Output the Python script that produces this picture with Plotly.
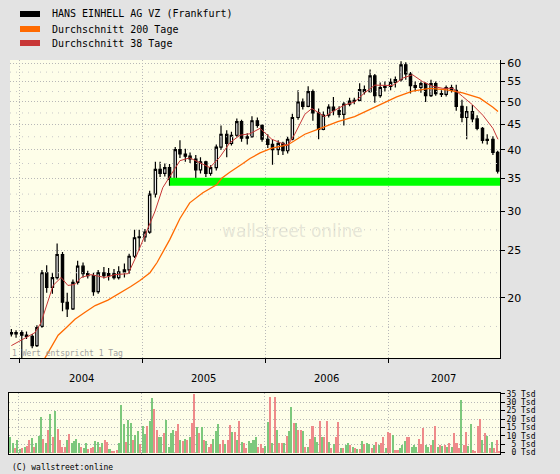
import plotly.graph_objects as go
import pandas as pd
import math

# ---------------- data ----------------
candle_dates = [
    "2003-12-08", "2003-12-22",
    "2004-01-08", "2004-01-22", "2004-02-08", "2004-02-22", "2004-03-08", "2004-03-22",
    "2004-04-08", "2004-04-22", "2004-05-08", "2004-05-22", "2004-06-08", "2004-06-22",
    "2004-07-08", "2004-07-22", "2004-08-08", "2004-08-22", "2004-09-08", "2004-09-22",
    "2004-10-08", "2004-10-22", "2004-11-08", "2004-11-22", "2004-12-08", "2004-12-22",
    "2005-01-08", "2005-01-22", "2005-02-08", "2005-02-22", "2005-03-08", "2005-03-22",
    "2005-04-08", "2005-04-22", "2005-05-08", "2005-05-22", "2005-06-08", "2005-06-22",
    "2005-07-08", "2005-07-22", "2005-08-08", "2005-08-22", "2005-09-08", "2005-09-22",
    "2005-10-08", "2005-10-22", "2005-11-08", "2005-11-22", "2005-12-08", "2005-12-22",
    "2006-01-08", "2006-01-22", "2006-02-08", "2006-02-22", "2006-03-08", "2006-03-22",
    "2006-04-08", "2006-04-22", "2006-05-08", "2006-05-22", "2006-06-08", "2006-06-22",
    "2006-07-08", "2006-07-22", "2006-08-08", "2006-08-22", "2006-09-08", "2006-09-22",
    "2006-10-08", "2006-10-22", "2006-11-08", "2006-11-22", "2006-12-08", "2006-12-22",
    "2007-01-08", "2007-01-22", "2007-02-08", "2007-02-22", "2007-03-08", "2007-03-22",
    "2007-04-08", "2007-04-22", "2007-05-08", "2007-05-22", "2007-06-08", "2007-06-22",
    "2007-07-08", "2007-07-22", "2007-08-08", "2007-08-22", "2007-09-08", "2007-09-22",
    "2007-10-08", "2007-10-22", "2007-11-08", "2007-11-22",
]
opens = [17.0, 16.9, 17.0, 16.8, 16.7, 16.0, 17.5, 22.5, 21.0, 22.0, 24.5, 19.6, 19.0, 21.5,
         23.2, 22.4, 22.2, 20.6, 22.5, 22.2, 22.4, 22.0, 22.6, 22.8, 24.3, 26.5,
         26.6, 27.2, 32.5, 36.5, 35.8, 36.8, 34.8, 40.0, 39.2, 38.8, 38.3, 36.4,
         37.8, 35.8, 36.8, 40.5, 43.0, 41.2, 42.8, 45.6, 42.2, 42.5, 45.8, 44.8,
         42.0, 41.0, 40.0, 41.2, 39.8, 42.0, 46.5, 50.0, 49.0, 52.5, 47.5, 44.0,
         47.0, 48.8, 48.0, 47.2, 49.5, 50.2, 50.4, 53.0, 52.5, 56.5, 51.5, 53.5,
         53.8, 54.8, 55.5, 59.5, 57.0, 54.0, 53.5, 54.5, 51.5, 54.5, 52.0, 51.8,
         53.5, 52.8, 49.0, 46.5, 47.8, 46.2, 44.2, 41.8, 42.0, 39.5]
highs = [17.3, 17.2, 17.2, 17.1, 16.9, 17.6, 22.8, 23.3, 22.5, 25.8, 24.8, 20.5, 21.8, 23.8,
         23.6, 22.7, 22.5, 22.8, 23.1, 23.0, 22.9, 23.2, 23.5, 24.6, 27.5, 27.5,
         27.6, 33.0, 37.8, 37.8, 37.5, 37.4, 40.5, 41.8, 40.2, 39.5, 39.0, 38.6,
         38.0, 37.2, 41.0, 44.8, 43.8, 43.5, 46.3, 46.0, 43.2, 46.8, 46.5, 45.0,
         43.0, 42.0, 41.8, 41.5, 42.5, 47.3, 52.8, 50.8, 53.8, 53.0, 48.5, 47.8,
         49.5, 51.2, 49.0, 50.0, 51.0, 51.0, 54.6, 54.0, 58.2, 57.0, 54.8, 55.0,
         55.8, 56.3, 60.5, 60.2, 57.5, 55.0, 55.0, 54.8, 55.5, 55.0, 52.8, 54.0,
         54.2, 54.2, 50.5, 49.0, 49.3, 47.0, 44.5, 43.0, 42.6, 39.8]
lows = [16.7, 16.6, 14.0, 16.5, 15.8, 15.9, 17.4, 20.5, 20.4, 21.8, 18.8, 18.3, 18.9, 21.3,
        22.0, 21.9, 20.2, 20.4, 21.9, 21.7, 21.8, 21.8, 22.0, 22.4, 24.1, 25.0,
        26.0, 27.0, 32.0, 35.2, 35.3, 33.8, 34.5, 38.5, 37.8, 37.6, 34.0, 35.8,
        35.2, 35.4, 36.3, 40.0, 38.6, 40.8, 42.5, 41.5, 41.0, 42.3, 44.3, 41.5,
        40.3, 37.3, 39.0, 39.0, 39.3, 41.8, 46.0, 48.3, 48.8, 45.8, 42.0, 43.8,
        46.5, 47.0, 46.5, 44.8, 49.0, 49.5, 50.2, 51.8, 52.3, 49.8, 51.0, 52.5,
        52.8, 53.5, 55.0, 55.5, 52.0, 52.5, 52.2, 50.0, 51.2, 51.5, 51.2, 51.3,
        52.3, 48.0, 45.5, 42.0, 45.5, 43.8, 41.2, 41.0, 39.0, 35.8]
closes = [16.9, 17.0, 16.8, 16.7, 16.0, 17.4, 22.5, 21.0, 22.0, 24.5, 19.6, 19.0, 21.5, 23.2,
          22.4, 22.2, 20.6, 22.5, 22.2, 22.4, 22.0, 22.6, 22.8, 24.3, 26.5, 26.6,
          27.2, 32.5, 36.5, 35.8, 36.8, 34.8, 40.0, 39.2, 38.8, 38.3, 36.4, 37.8,
          35.8, 36.8, 40.5, 43.0, 41.2, 42.8, 45.6, 42.2, 42.5, 45.8, 44.8, 42.0,
          41.0, 40.0, 41.2, 39.8, 42.0, 46.5, 50.0, 49.0, 52.5, 47.5, 44.0, 47.0,
          48.8, 48.0, 47.2, 49.5, 50.2, 50.4, 53.0, 52.5, 56.5, 51.5, 53.5, 53.8,
          54.8, 55.5, 59.5, 57.0, 54.0, 53.5, 54.5, 51.5, 54.5, 52.0, 51.8, 53.5,
          52.8, 49.0, 46.5, 47.8, 46.2, 44.2, 41.8, 42.0, 39.5, 36.2]

ma200_dates = ["2004-03-12", "2004-04-25", "2004-05-19", "2004-06-14", "2004-07-14", "2004-08-13",
               "2004-09-20", "2004-10-29", "2004-11-27", "2004-12-24", "2005-01-23", "2005-02-13",
               "2005-03-23", "2005-04-22", "2005-05-21", "2005-06-29", "2005-08-10", "2005-08-24",
               "2005-09-17", "2005-10-26", "2005-11-16", "2005-12-16", "2006-01-20", "2006-03-08",
               "2006-04-28", "2006-06-17", "2006-08-04", "2006-09-23", "2006-11-13", "2006-12-16",
               "2007-01-26", "2007-03-14", "2007-05-04", "2007-06-24", "2007-08-10", "2007-09-30",
               "2007-11-08", "2007-11-23"]
ma200_values = [14.9, 16.8, 17.4, 18.1, 18.7, 19.3, 19.8, 20.5, 21.1, 21.7, 22.5, 23.6,
                26.3, 29.0, 31.2, 32.7, 34.0, 35.0, 36.0, 37.5, 38.4, 39.4, 40.3, 40.9,
                43.0, 44.3, 45.6, 46.7, 48.5, 49.6, 51.2, 52.6, 53.3, 52.9, 52.2, 50.9,
                48.8, 47.8]

ma38_dates = ["2003-12-08", "2004-02-16", "2004-03-05", "2004-03-26", "2004-04-10", "2004-05-04",
              "2004-05-24", "2004-06-14", "2004-07-02", "2004-08-01", "2004-09-11", "2004-10-11",
              "2004-11-19", "2004-12-12", "2005-01-14", "2005-02-07", "2005-03-02", "2005-03-23",
              "2005-04-22", "2005-05-21", "2005-06-20", "2005-07-20", "2005-08-18", "2005-09-17",
              "2005-10-17", "2005-11-16", "2005-12-16", "2006-01-20", "2006-02-19", "2006-03-08",
              "2006-03-29", "2006-04-28", "2006-05-19", "2006-06-06", "2006-06-26", "2006-07-26",
              "2006-08-24", "2006-09-23", "2006-10-23", "2006-11-22", "2006-12-16", "2007-01-14",
              "2007-02-13", "2007-03-14", "2007-04-13", "2007-05-13", "2007-06-12", "2007-07-12",
              "2007-08-10", "2007-09-09", "2007-10-09", "2007-11-08", "2007-11-23"]
ma38_values = [16.0, 17.0, 17.8, 19.8, 21.2, 22.0, 21.2, 21.3, 22.0, 22.3, 22.0, 22.3,
               22.4, 24.2, 27.3, 30.0, 33.5, 35.3, 38.0, 38.5, 37.6, 36.8, 38.6, 41.3,
               42.8, 43.1, 44.2, 42.0, 41.2, 40.8, 43.0, 47.2, 48.5, 47.7, 46.7, 48.1,
               49.3, 50.0, 52.2, 54.1, 54.0, 54.0, 55.9, 56.8, 55.0, 53.8, 53.3, 53.3,
               51.3, 49.3, 47.0, 44.2, 42.0]

support_dates = ["2005-03-23", "2007-11-29"]
support_low = 33.8
support_high = 35.1

vol_first_week = "2003-12-08"
volumes = [9.6, 5.6, 2.6, 7.6, 2.0, 2.6, 3.6, 4.0, 7.6, 8.6, 3.6, 5.6, 10.0, 21.0, 8.0, 5.6,
           13.6, 23.0, 9.6, 25.0, 14.0, 7.6, 3.6, 3.6, 7.6, 11.0, 5.6, 7.2, 8.4, 5.6, 3.6, 2.5,
           5.6, 2.0, 2.5, 3.2, 7.2, 6.6, 3.6, 5.6, 7.6, 6.6, 2.4, 1.2, 1.2, 1.5, 5.6, 28.6,
           17.0, 6.6, 19.6, 17.6, 7.6, 10.6, 12.6, 5.0, 16.0, 11.0, 16.0, 18.6, 32.6, 26.0,
           13.6, 9.2, 9.2, 11.6, 19.6, 3.6, 11.6, 13.6, 12.6, 17.0, 7.6, 7.2, 8.0, 7.6,
           9.2, 17.6, 35.0, 15.0, 11.6, 15.0, 7.6, 7.2, 3.6, 5.2, 8.0, 12.6, 17.0, 5.2,
           7.6, 5.2, 7.6, 16.6, 12.0, 12.0, 7.6, 19.0, 6.6, 5.6, 2.6, 7.2, 5.6, 7.6, 9.6,
           3.6, 5.2, 2.6, 4.0, 18.0, 33.2, 6.0, 33.2, 13.2, 6.0, 5.6, 5.6, 10.0, 12.6, 27.2,
           17.6, 17.6, 13.6, 13.2, 12.6, 3.6, 3.6, 8.0, 16.0, 9.6, 6.6, 18.6, 9.2, 9.2, 18.6,
           6.6, 2.6, 5.2, 9.6, 18.0, 2.6, 2.6, 4.6, 6.0, 4.6, 3.6, 2.6, 2.0, 2.0, 7.2, 5.2,
           6.0, 5.2, 2.6, 4.6, 6.6, 4.6, 5.6, 9.2, 2.6, 12.0, 11.6, 10.6, 1.6, 1.6, 2.6, 4.6,
           7.2, 9.2, 9.6, 3.6, 4.6, 3.6, 8.0, 5.2, 14.6, 4.6, 3.6, 4.6, 7.6, 15.6, 3.6, 4.6,
           4.0, 4.6, 3.6, 5.6, 3.6, 11.6, 5.6, 2.6, 31.6, 4.6, 12.0, 4.0, 17.2, 1.6, 0.6,
           16.0, 20.0, 7.6, 11.6, 10.0, 2.6, 6.6, 2.6, 7.6, 1.2]
# g = green (up day volume), r = red (down day volume), one letter per weekly bar
vol_direction = ("ggrggrgrrgrgggrg" "rgrgrrrrgrggggrg" "grrrggrgrrgrrrgg"
                 "grggrggrggrggrrg" "grggggrrgrgrgrrg" "rgrgrrgggrrgrrgr"
                 "grgrrggggrrrggrg" "rgrrgrggrgrrgrgr" "rggrgrrgrgrrgrgg"
                 "rgrgrgrggrgrgrrg" "rrgrrgggrrgggrrr" "ggrgrgrgrgrgrrrg"
                 "rrggrrrrgrgrgrrr")

price_ticks = [20, 25, 30, 35, 40, 45, 50, 55, 60]
price_minor = [15, 17.5, 22.5, 27.5, 32.5, 37.5, 42.5, 47.5, 52.5, 57.5]
vol_ticks = [0, 5, 10, 15, 20, 25, 30, 35]
year_starts = ["2004-01-01", "2005-01-01", "2006-01-01", "2007-01-01"]
year_labels = ["2004", "2005", "2006", "2007"]
year_label_dates = ["2004-07-02", "2005-07-02", "2006-07-02", "2007-06-15"]
legend_names = ["HANS EINHELL AG VZ (Frankfurt)", "Durchschnitt 200 Tage", "Durchschnitt 38 Tage"]
x_range = ["2003-12-04", "2007-11-29"]
price_range = [15.1, 60.85]
vol_range = [-0.8, 35.5]

# ---------------- styles ----------------
W, H = 560, 474
BLACK = "#000000"
ORANGE = "#ff6a00"
RED = "#c83737"
GREEN_BAND = "#00ff00"
VOL_GREEN = "#7cc87c"
VOL_RED = "#ee8a8a"
GRID = "#b8b8b8"
PLOT_BG = "#fefee9"
PAPER_BG = "#e3e3e3"


def px_x(p):
    return p / W


def px_y(p):
    return 1 - p / H


fig = go.Figure()

# support band
fig.add_trace(go.Scatter(
    x=[support_dates[0], support_dates[1], support_dates[1], support_dates[0], support_dates[0]],
    y=[support_low, support_low, support_high, support_high, support_low],
    fill="toself", fillcolor=GREEN_BAND, line=dict(width=0), mode="lines",
    hoverinfo="skip", showlegend=False, xaxis="x", yaxis="y"))

# minor price grid
for v in price_minor:
    fig.add_trace(go.Scatter(x=x_range, y=[v, v], mode="lines",
                             line=dict(color="#c8c8c8", width=1, dash="1px,5px"),
                             hoverinfo="skip", showlegend=False, xaxis="x", yaxis="y"))

# candles
fig.add_trace(go.Candlestick(
    x=candle_dates, open=opens, high=highs, low=lows, close=closes,
    increasing=dict(line=dict(color=BLACK, width=1.2), fillcolor="#ffffff"),
    decreasing=dict(line=dict(color=BLACK, width=1.2), fillcolor=BLACK),
    whiskerwidth=0, showlegend=False, xaxis="x", yaxis="y"))

fig.add_trace(go.Scatter(x=ma200_dates, y=ma200_values, mode="lines",
                         line=dict(color=ORANGE, width=1.3), showlegend=False,
                         xaxis="x", yaxis="y"))
fig.add_trace(go.Scatter(x=ma38_dates, y=ma38_values, mode="lines",
                         line=dict(color=RED, width=1), showlegend=False,
                         xaxis="x", yaxis="y"))

# volume
n_vol = min(len(volumes), len(vol_direction))
vol_dates = pd.date_range(vol_first_week, periods=n_vol, freq="7D")
vol_colors = [VOL_GREEN if d == "g" else VOL_RED for d in vol_direction[:n_vol]]
fig.add_trace(go.Bar(x=vol_dates, y=volumes[:n_vol],
                     marker=dict(color=vol_colors, line=dict(width=0)),
                     width=6 * 86400000, showlegend=False, xaxis="x2", yaxis="y2"))

x_dom = [px_x(10), px_x(500)]
fig.update_layout(
    width=W, height=H,
    margin=dict(l=0, r=0, t=0, b=0, pad=0),
    paper_bgcolor=PAPER_BG, plot_bgcolor=PLOT_BG,
    showlegend=False,
    xaxis=dict(domain=x_dom, anchor="y", type="date", range=x_range,
               rangeslider=dict(visible=False),
               tickvals=year_starts, ticktext=["" for _ in year_starts],
               ticks="outside", ticklen=4, tickcolor=BLACK,
               showgrid=True, gridcolor=GRID, griddash="1px,2px", gridwidth=1,
               showline=True, linecolor=BLACK, linewidth=1, zeroline=False,
               automargin=False, fixedrange=True),
    yaxis=dict(domain=[px_y(358), px_y(60)], anchor="x", side="right", type="log",
               range=[math.log10(price_range[0]), math.log10(price_range[1])],
               tickvals=price_ticks, ticktext=[str(t) for t in price_ticks],
               ticks="outside", ticklen=4, tickcolor=BLACK,
               tickfont=dict(family="DejaVu Sans", size=11, color=BLACK),
               showgrid=True, gridcolor=GRID, griddash="1px,2px", gridwidth=1,
               showline=True, linecolor=BLACK, linewidth=1, zeroline=False,
               automargin=False, fixedrange=True),
    xaxis2=dict(domain=[px_x(9), px_x(500)], anchor="y2", type="date", range=x_range,
                tickvals=year_starts, showticklabels=False, ticks="",
                showgrid=True, gridcolor=GRID, griddash="1px,2px",
                showline=True, mirror=True, linecolor=BLACK, linewidth=1,
                zeroline=False, automargin=False, fixedrange=True),
    yaxis2=dict(domain=[px_y(454), px_y(393)], anchor="x2", side="right",
                range=vol_range, tickvals=vol_ticks,
                ticktext=[("\u00a0" if t < 10 else "") + f"{t} Tsd" for t in vol_ticks],
                ticks="outside", ticklen=4, tickcolor=BLACK,
                tickfont=dict(family="DejaVu Sans Mono", size=8, color=BLACK),
                showgrid=True, gridcolor=GRID, griddash="1px,2px",
                showline=True, mirror=True, linecolor=BLACK, linewidth=1,
                zeroline=False, automargin=False, fixedrange=True),
    bargap=0,
)

# year labels
for lab, d in zip(year_labels, year_label_dates):
    fig.add_annotation(x=d, y=px_y(378), xref="x", yref="paper", text=lab,
                       showarrow=False, font=dict(family="DejaVu Sans", size=10, color=BLACK),
                       xanchor="center", yanchor="middle")

# legend
legend_colors = [BLACK, ORANGE, RED]
legend_rows = [14, 29, 43]
for name, col, row in zip(legend_names, legend_colors, legend_rows):
    fig.add_shape(type="rect", xref="paper", yref="paper",
                  x0=px_x(20), x1=px_x(40), y0=px_y(row - 3), y1=px_y(row + 3),
                  fillcolor=col, line=dict(width=0))
    fig.add_annotation(x=px_x(50), y=px_y(row), xref="paper", yref="paper", text=name,
                       showarrow=False, xanchor="left", yanchor="middle",
                       font=dict(family="DejaVu Sans Mono", size=10, color=BLACK))

# watermark
fig.add_annotation(x=px_x(292), y=px_y(231), xref="paper", yref="paper",
                   text="wallstreet online", showarrow=False,
                   font=dict(family="DejaVu Sans", size=17, color="rgba(170,170,170,0.3)"))

fig.add_annotation(x=px_x(10), y=px_y(353), xref="paper", yref="paper",
                   text="1 Wert entspricht 1 Tag", showarrow=False, xanchor="left",
                   yanchor="middle", font=dict(family="DejaVu Sans Mono", size=8, color="#a0a0a0"))
fig.add_annotation(x=px_x(10), y=px_y(467), xref="paper", yref="paper",
                   text="(C) wallstreet:online", showarrow=False, xanchor="left",
                   yanchor="middle", font=dict(family="DejaVu Sans Mono", size=8, color=BLACK))

fig.write_html("out.html", config=dict(displayModeBar=False),
               post_script="document.body.style.margin='0';document.body.style.overflow='hidden';")
